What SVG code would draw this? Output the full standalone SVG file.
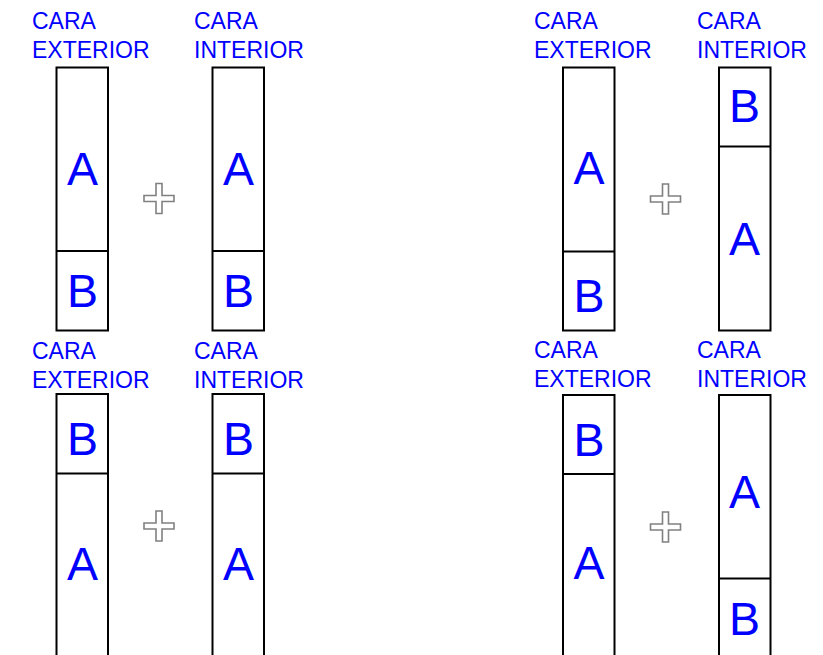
<svg xmlns="http://www.w3.org/2000/svg" width="823" height="655" viewBox="0 0 823 655">
<style>
.bg{fill:#ffffff}
.box{fill:none;stroke:#000;stroke-width:2}
.lbl{font-family:"Liberation Sans",Arial,sans-serif;font-size:23px;fill:#0000ff}
.big{font-family:"Liberation Sans",Arial,sans-serif;font-size:46.5px;fill:#0000ff;text-anchor:middle}
.plus{fill:none;stroke:#808080;stroke-width:1.6}
</style>
<defs>
<path id="plus" d="M-3,-15 H3 V-3 H15 V3 H3 V15 H-3 V3 H-15 V-3 H-3 Z"/>
</defs>
<rect class="bg" x="0" y="0" width="823" height="655"/>

<g id="panel-top-left">
<text class="lbl" x="32" y="29">CARA</text>
<text class="lbl" x="32" y="58">EXTERIOR</text>
<text class="lbl" x="194" y="29">CARA</text>
<text class="lbl" x="194" y="58">INTERIOR</text>
<g id="tl-ext">
<rect class="box" x="56.5" y="67.5" width="51.5" height="263"/>
<line class="box" x1="56.5" y1="251" x2="108" y2="251"/>
<text class="big" x="82.5" y="185">A</text>
<text class="big" x="82.5" y="307">B</text>
</g>
<g id="tl-int">
<rect class="box" x="212.5" y="67.5" width="51.5" height="263"/>
<line class="box" x1="212.5" y1="251" x2="264" y2="251"/>
<text class="big" x="238.5" y="185">A</text>
<text class="big" x="238.5" y="307">B</text>
</g>
<use href="#plus" class="plus" transform="translate(159,198.5)"/>
</g>

<g id="panel-top-right">
<text class="lbl" x="534" y="29">CARA</text>
<text class="lbl" x="534" y="58">EXTERIOR</text>
<text class="lbl" x="697" y="29">CARA</text>
<text class="lbl" x="697" y="58">INTERIOR</text>
<g id="tr-ext">
<rect class="box" x="563" y="67.5" width="51.5" height="263"/>
<line class="box" x1="563" y1="251.5" x2="614.5" y2="251.5"/>
<text class="big" x="589" y="183.5">A</text>
<text class="big" x="589" y="311.5">B</text>
</g>
<g id="tr-int">
<rect class="box" x="719" y="67.5" width="51.5" height="263"/>
<line class="box" x1="719" y1="146.5" x2="770.5" y2="146.5"/>
<text class="big" x="744.5" y="121.5">B</text>
<text class="big" x="744.5" y="255">A</text>
</g>
<use href="#plus" class="plus" transform="translate(665.5,199)"/>
</g>

<g id="panel-bottom-left">
<text class="lbl" x="32" y="359">CARA</text>
<text class="lbl" x="32" y="388">EXTERIOR</text>
<text class="lbl" x="194" y="359">CARA</text>
<text class="lbl" x="194" y="388">INTERIOR</text>
<g id="bl-ext">
<rect class="box" x="56.5" y="394" width="51.5" height="270"/>
<line class="box" x1="56.5" y1="473.5" x2="108" y2="473.5"/>
<text class="big" x="82.5" y="455">B</text>
<text class="big" x="82.5" y="580">A</text>
</g>
<g id="bl-int">
<rect class="box" x="212.5" y="394" width="51.5" height="270"/>
<line class="box" x1="212.5" y1="473.5" x2="264" y2="473.5"/>
<text class="big" x="238.5" y="455">B</text>
<text class="big" x="238.5" y="580">A</text>
</g>
<use href="#plus" class="plus" transform="translate(159,526)"/>
</g>

<g id="panel-bottom-right">
<text class="lbl" x="534" y="358">CARA</text>
<text class="lbl" x="534" y="386.5">EXTERIOR</text>
<text class="lbl" x="697" y="358">CARA</text>
<text class="lbl" x="697" y="386.5">INTERIOR</text>
<g id="br-ext">
<rect class="box" x="563" y="395" width="51.5" height="270"/>
<line class="box" x1="563" y1="474" x2="614.5" y2="474"/>
<text class="big" x="589" y="456">B</text>
<text class="big" x="589" y="578.5">A</text>
</g>
<g id="br-int">
<rect class="box" x="719" y="395" width="51.5" height="270"/>
<line class="box" x1="719" y1="578.5" x2="770.5" y2="578.5"/>
<text class="big" x="744.5" y="507.5">A</text>
<text class="big" x="744.5" y="634.5">B</text>
</g>
<use href="#plus" class="plus" transform="translate(665.5,527)"/>
</g>

<g id="connectors"></g>
</svg>
